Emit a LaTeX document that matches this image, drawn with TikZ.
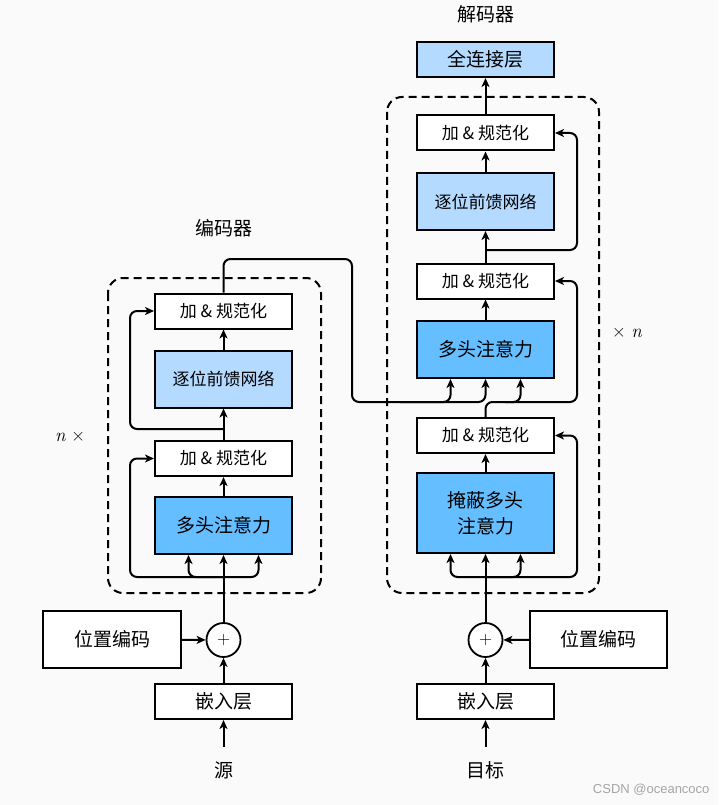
\documentclass[tikz,border=0pt]{standalone}
\usepackage{fontspec}
\newfontfamily\cjk{Noto Sans CJK SC}
\newfontfamily\wmfont{Liberation Sans}
\usetikzlibrary{arrows.meta}
\definecolor{attblue}{RGB}{100,190,255}
\definecolor{ffnblue}{RGB}{180,218,255}
\definecolor{bgcol}{RGB}{250,250,250}

\begin{document}
\begin{tikzpicture}[x=1pt,y=-1pt,
    blk/.style={draw,line width=2pt,inner sep=0pt,minimum width=137pt,
          font=\cjk\fontsize{17}{20}\selectfont},
    addnorm/.style={blk,minimum height=35pt,fill=white},
    ffn/.style={blk,minimum height=57pt,fill=ffnblue},
    att/.style={blk,minimum height=57pt,fill=attblue,align=center,
          font=\cjk\fontsize{19}{26}\selectfont},
    plain/.style={blk,minimum height=35pt,fill=white,
          font=\cjk\fontsize{19}{22}\selectfont},
    lbl/.style={inner sep=0pt,font=\cjk\fontsize{19}{22}\selectfont},
    plus/.style={draw,circle,line width=1.8pt,minimum size=34pt,inner sep=0pt,
          fill=white,font=\fontsize{18}{18}\selectfont},
    times/.style={font=\fontsize{19}{21}\selectfont},
    ln/.style={line width=2pt,rounded corners=7pt},
    arr/.style={ln,-{Stealth[length=9pt,width=8pt,inset=2.5pt]}},
    stack/.style={line width=2pt,dash pattern=on 8pt off 5pt,rounded corners=15pt}]

    \fill[bgcol] (0,0) rectangle (718,805);
    \useasboundingbox (0,0) rectangle (718,805);

    \draw[stack] (108,278) rectangle (321,593);
    \draw[stack] (387,97) rectangle (599,593);

    % encoder
    \node[lbl] (src) at (223.5,770) {源};
    \node[plain] (embS) at (223.5,701.5) {嵌入层};
    \node[plus] (plusS) at (223.5,640) {+};
    \node[plain,minimum width=138pt,minimum height=57pt] (posS) at (112,639.5) {位置编码};
    \node[att] (attS) at (223.5,525.5) {多头注意力};
    \node[addnorm] (an1) at (223.5,458.5) {加 \& 规范化};
    \node[ffn] (ffnS) at (223.5,379) {逐位前馈网络};
    \node[addnorm] (an2) at (223.5,311) {加 \& 规范化};
    \node[lbl] (enc) at (223.5,228) {编码器};
    \node[times] (nl) at (70,437) {\itshape n\upshape\ ×};
    \coordinate (e0) at (223.5,577);
    \coordinate (e1) at (223.5,429);

    \draw[arr,shorten <=14pt] (src) -- (embS);
    \draw[arr] (embS) -- (plusS);
    \draw[arr] (posS) -- (plusS);
    \draw[arr] (plusS) -- (attS);
    \draw[arr] (e0) -| ([xshift=-35pt]attS.south);
    \draw[arr] (e0) -| ([xshift=35pt]attS.south);
    \draw[arr] (e0) -| (130,458.5) -- (an1.west);
    \draw[arr] (attS) -- (an1);
    \draw[arr] (an1) -- (ffnS);
    \draw[arr] (ffnS) -- (an2);
    \draw[arr] (e1) -| (130,311) -- (an2.west);

    % decoder
    \node[lbl] (tgt) at (485.5,770) {目标};
    \node[plain] (embD) at (485.5,701.5) {嵌入层};
    \node[plus] (plusD) at (485.5,640) {+};
    \node[plain,minimum height=57pt] (posD) at (598.5,639.5) {位置编码};
    \node[att,minimum height=80pt] (mattD) at (485.5,513) {掩蔽多头\\注意力};
    \node[addnorm] (anD1) at (485.5,435.5) {加 \& 规范化};
    \node[att] (attD) at (485.5,349.5) {多头注意力};
    \node[addnorm] (anD2) at (485.5,281) {加 \& 规范化};
    \node[ffn] (ffnD) at (485.5,201.5) {逐位前馈网络};
    \node[addnorm] (anD3) at (485.5,133) {加 \& 规范化};
    \node[ffn,minimum height=35pt,font=\cjk\fontsize{19}{22}\selectfont] (fcD) at (485.5,59.5) {全连接层};
    \node[lbl] (dec) at (485.5,14) {解码器};
    \node[times] (nr) at (627,333) {× \itshape n};
    \coordinate (d0) at (485.5,577);
    \coordinate (d1) at (485.5,250);

    \draw[arr,shorten <=14pt] (tgt) -- (embD);
    \draw[arr] (embD) -- (plusD);
    \draw[arr] (posD) -- (plusD);
    \draw[arr] (plusD) -- (mattD);
    \draw[arr] (d0) -| ([xshift=-35pt]mattD.south);
    \draw[arr] (d0) -| ([xshift=35pt]mattD.south);
    \draw[arr] (d0) -| (577,435.5) -- (anD1.east);
    \draw[arr] (mattD) -- (anD1);
    \draw[arr] (anD1.north) |- (577,402) |- (anD2.east);
    \draw[arr] (505,402) -| ([xshift=35pt]attD.south);
    \draw[arr] (attD) -- (anD2);
    \draw[arr] (anD2) -- (ffnD);
    \draw[arr] (ffnD) -- (anD3);
    \draw[arr] (d1) -| (577,133) -- (anD3.east);
    \draw[arr] (anD3) -- (fcD);

    % encoder to decoder
    \draw[arr] (an2.north) |- (352,259) -- (352,402) -| (attD.south);
    \draw[arr] (400,402) -| ([xshift=-35pt]attD.south);

    \node[font=\wmfont\fontsize{13}{15}\selectfont,text=gray!70,anchor=east] (wm) at (713,790) {CSDN @oceancoco};
\end{tikzpicture}
\end{document}
